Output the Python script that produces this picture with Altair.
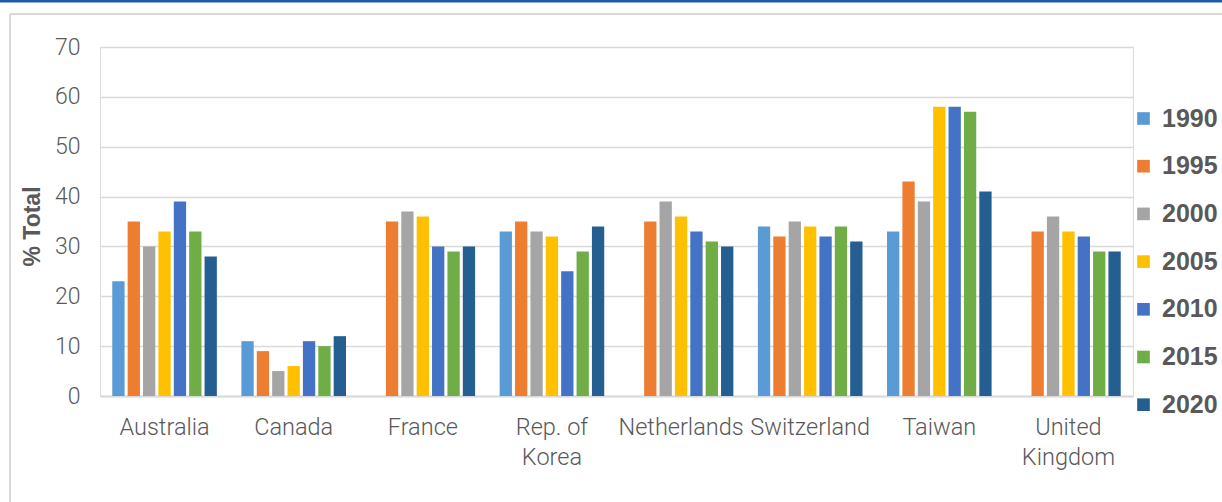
import altair as alt
import pandas as pd

countries = ["Australia", "Canada", "France", "Rep. of Korea", "Netherlands",
             "Switzerland", "Taiwan", "United Kingdom"]
years = ["1990", "1995", "2000", "2005", "2010", "2015", "2020"]
colors = ["#5B9BD5", "#ED7D31", "#A5A5A5", "#FFC000", "#4472C4", "#70AD47", "#255E91"]

# % of total, one list per year (None = no data)
pct_1990 = [23, 11, None, 33, None, 34, 33, None]
pct_1995 = [35, 9, 35, 35, 35, 32, 43, 33]
pct_2000 = [30, 5, 37, 33, 39, 35, 39, 36]
pct_2005 = [33, 6, 36, 32, 36, 34, 58, 33]
pct_2010 = [39, 11, 30, 25, 33, 32, 58, 32]
pct_2015 = [33, 10, 29, 29, 31, 34, 57, 29]
pct_2020 = [28, 12, 30, 34, 30, 31, 41, 29]

series = [pct_1990, pct_1995, pct_2000, pct_2005, pct_2010, pct_2015, pct_2020]
rows = []
for yr, vals in zip(years, series):
    for c, v in zip(countries, vals):
        if v is not None:
            rows.append({"country": c, "year": yr, "pct": v})
df = pd.DataFrame(rows)

W, H = 1033, 349
PAD_L, PAD_T = 100, 47

label_expr = ("datum.value == 'Rep. of Korea' ? ['Rep. of', 'Korea'] : "
              "datum.value == 'United Kingdom' ? ['United', 'Kingdom'] : datum.value")

bars = alt.Chart(df).mark_bar().encode(
    x=alt.X("country:N", sort=countries,
            scale=alt.Scale(paddingInner=0.19, paddingOuter=0.095),
            axis=alt.Axis(title=None, labelExpr=label_expr, labelAngle=0,
                          labelFont="Roboto", labelFontWeight=300,
                          labelFontSize=23.5, labelColor="#595959",
                          labelPadding=19.5, labelLineHeight=29.5,
                          ticks=False, domain=True, domainColor="#d9d9d9",
                          domainWidth=2, grid=False)),
    xOffset=alt.XOffset("year:N", sort=years,
                        scale=alt.Scale(paddingInner=0.2, paddingOuter=0)),
    y=alt.Y("pct:Q", scale=alt.Scale(domain=[0, 70], nice=False),
            axis=alt.Axis(title="% Total", values=list(range(0, 71, 10)),
                          labelFont="Roboto", labelFontWeight=300,
                          labelFontSize=23, labelColor="#595959",
                          labelPadding=20, ticks=False, domain=False,
                          gridColor="#d9d9d9", gridWidth=1.5,
                          titleFont="Liberation Sans", titleFontSize=23,
                          titleFontWeight="bold", titleColor="#595959",
                          titleAngle=270, titleAlign="center",
                          titleBaseline="middle", titleX=-68, titleY=179)),
    color=alt.Color("year:N", sort=years,
                    scale=alt.Scale(domain=years, range=colors),
                    legend=alt.Legend(title=None, orient="none",
                                      legendX=1031, legendY=59,
                                      symbolType="square", symbolSize=160,
                                      symbolStrokeWidth=0, symbolOpacity=1,
                                      labelFont="Liberation Sans", labelFontSize=25,
                                      labelFontWeight="bold",
                                      labelColor="#595959", labelOffset=6,
                                      rowPadding=21.7, padding=0)),
)

# frame: blue band across the top, light box edges
frame = pd.DataFrame({"k": [0]})
top_band = alt.Chart(frame).mark_rule(color="#1F5AA6", strokeWidth=3).encode(
    x=alt.value(-PAD_L), x2=alt.value(1222 - PAD_L), y=alt.value(-PAD_T + 1))
box_top = alt.Chart(frame).mark_rule(color="#d9d9d9", strokeWidth=2).encode(
    x=alt.value(10 - PAD_L), x2=alt.value(1222 - PAD_L), y=alt.value(14 - PAD_T))
box_left = alt.Chart(frame).mark_rule(color="#d9d9d9", strokeWidth=2).encode(
    x=alt.value(10 - PAD_L), y=alt.value(14 - PAD_T), y2=alt.value(502 - PAD_T))

chart = alt.layer(bars, top_band, box_top, box_left).properties(
    width=W, height=H,
    autosize=alt.AutoSizeParams(type="none"),
    padding={"left": PAD_L, "top": PAD_T, "right": 1222 - PAD_L - W,
             "bottom": 502 - PAD_T - H},
).configure_view(stroke=None).configure(background="white")

chart.save("out.html", embed_options={"renderer": "svg", "actions": False})
